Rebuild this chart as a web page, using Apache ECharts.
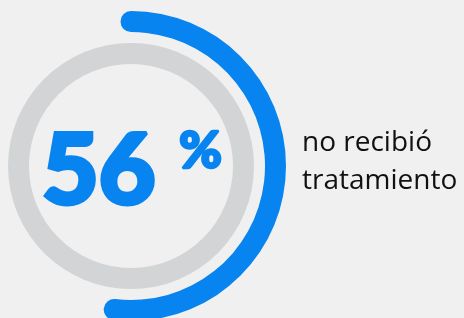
<!DOCTYPE html>
<html>
<head>
<meta charset="utf-8">
<script src="https://cdn.jsdelivr.net/npm/echarts@6/dist/echarts.min.js"></script>
<style>
  html, body { margin: 0; padding: 0; background: #f0f0f0; }
  #chart { width: 464px; height: 318px; }
</style>
</head>
<body>
<div id="chart"></div>
<script>
// data
const percentValue = [56];
const arcScaleMax = [108];   // the drawn arc runs a little past half way round
const labelLines = ['no recibió', 'tratamiento'];

const blue = '#0784f0';
const ringGray = '#d3d4d6';

const myChart = echarts.init(document.getElementById('chart'));
const option = {
  backgroundColor: '#f0f0f0',
  animation: false,
  series: [
    {
      // gray background ring
      type: 'gauge',
      center: [131, 166],
      radius: 123,
      startAngle: 90,
      endAngle: -270,
      min: 0,
      max: 100,
      silent: true,
      pointer: { show: false },
      axisTick: { show: false },
      splitLine: { show: false },
      axisLabel: { show: false },
      detail: { show: false },
      title: { show: false },
      axisLine: { lineStyle: { width: 21, color: [[1, ringGray]] } },
      data: [{ value: 0 }]
    },
    {
      // blue progress arc
      type: 'gauge',
      center: [131, 166],
      radius: 155,
      startAngle: 90,
      endAngle: -270,
      min: 0,
      max: arcScaleMax[0],
      clockwise: true,
      pointer: { show: false },
      axisTick: { show: false },
      splitLine: { show: false },
      axisLabel: { show: false },
      title: { show: false },
      detail: { show: false },
      axisLine: { lineStyle: { width: 21, color: [[1, 'rgba(0,0,0,0)']] } },
      progress: { show: true, roundCap: true, width: 21, itemStyle: { color: blue } },
      data: [{ value: percentValue[0] }]
    }
  ],
  graphic: [
    {
      type: 'text',
      x: 42,
      y: 172,
      style: {
        text: String(percentValue[0]),
        fontFamily: 'Lato',
        fontWeight: 900,
        fontSize: 98,
        fill: blue,
        stroke: blue,
        lineWidth: 4,
        verticalAlign: 'middle'
      }
    },
    {
      type: 'text',
      x: 179,
      y: 151,
      style: {
        text: '%',
        fontFamily: 'Lato',
        fontWeight: 900,
        fontSize: 52,
        fill: blue,
        stroke: blue,
        lineWidth: 2.5,
        verticalAlign: 'middle'
      }
    },
    {
      type: 'text',
      x: 302,
      y: 143,
      style: {
        text: labelLines[0],
        font: '28px "Open Sans"',
        fill: '#111111',
        verticalAlign: 'middle'
      }
    },
    {
      type: 'text',
      x: 302,
      y: 181,
      style: {
        text: labelLines[1],
        font: '28px "Open Sans"',
        fill: '#111111',
        verticalAlign: 'middle'
      }
    }
  ]
};
option && myChart.setOption(option);
</script>
</body>
</html>
